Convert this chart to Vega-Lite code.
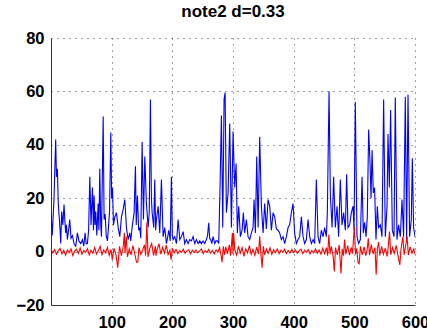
{
  "$schema": "https://vega.github.io/schema/vega-lite/v6.json",
  "width": 364,
  "height": 267,
  "autosize": {"type": "none"},
  "padding": {"left": 51, "top": 38, "right": 12, "bottom": 25},
  "background": "white",
  "title": {"text": "note2 d=0.33", "fontSize": 17, "fontWeight": "bold", "font": "Liberation Sans", "color": "black", "offset": 9, "anchor": "middle"},
  "config": {
    "view": {"stroke": null},
    "axis": {
      "labelFont": "Liberation Sans", "labelFontSize": 16.5, "labelFontWeight": "bold", "labelColor": "black",
      "domainColor": "#333", "domainWidth": 1, "ticks": false,
      "grid": true, "gridColor": "#444", "gridDash": [1, 5], "gridOpacity": 1, "gridWidth": 1,
      "title": null
    }
  },
  "datasets": {
    "blue": [
      {"x":0,"y":15},{"x":2,"y":6},{"x":5,"y":20},{"x":7.7,"y":42},{"x":9,"y":28},{"x":10.5,"y":31},{"x":12,"y":18},{"x":13.2,"y":14},{"x":15,"y":8},{"x":16,"y":3},{"x":17.6,"y":15},{"x":19.5,"y":10},{"x":21.5,"y":17.6},{"x":23,"y":11},{"x":24.2,"y":7},{"x":25.5,"y":10},{"x":27,"y":4.5},{"x":29,"y":8},{"x":30.9,"y":12},{"x":33,"y":5},{"x":35.3,"y":6},{"x":38,"y":3},{"x":40.8,"y":2},{"x":43.5,"y":7},{"x":46,"y":4},{"x":49,"y":3},{"x":51.8,"y":4.5},{"x":54,"y":2},{"x":56.2,"y":7},{"x":58,"y":3},{"x":60,"y":3},{"x":62,"y":8},{"x":64,"y":28},{"x":66,"y":10},{"x":68.3,"y":24},{"x":70,"y":8},{"x":71,"y":21},{"x":72.5,"y":10},{"x":73.8,"y":15},{"x":75.5,"y":6},{"x":77.7,"y":18},{"x":79,"y":8},{"x":80.4,"y":31},{"x":82,"y":10},{"x":83.2,"y":5.6},{"x":86,"y":50.6},{"x":87.5,"y":12},{"x":89.3,"y":14},{"x":91,"y":6},{"x":93,"y":4},{"x":95,"y":10},{"x":96.5,"y":15},{"x":98.6,"y":44.6},{"x":100,"y":20},{"x":101.4,"y":24},{"x":103,"y":10},{"x":105.2,"y":13},{"x":107.9,"y":14.6},{"x":110.7,"y":9},{"x":113.4,"y":5.6},{"x":116.1,"y":13},{"x":118.9,"y":15.7},{"x":121.6,"y":19.5},{"x":124.4,"y":9},{"x":127.1,"y":4.5},{"x":129.9,"y":7},{"x":131.5,"y":4},{"x":133.7,"y":9},{"x":137,"y":14.6},{"x":139.2,"y":32},{"x":140.5,"y":10},{"x":142.5,"y":21},{"x":144.5,"y":8},{"x":146.3,"y":9},{"x":148,"y":5},{"x":150.2,"y":41},{"x":152.4,"y":12},{"x":154.6,"y":35.6},{"x":157.3,"y":18},{"x":160.1,"y":9},{"x":162,"y":15},{"x":163.9,"y":57},{"x":165.5,"y":20},{"x":166.7,"y":14.6},{"x":169.4,"y":9},{"x":171,"y":27},{"x":172.5,"y":8},{"x":173.8,"y":12},{"x":176.6,"y":17},{"x":179.3,"y":7},{"x":182,"y":27},{"x":184.8,"y":5.6},{"x":187.5,"y":9},{"x":190.3,"y":3},{"x":192,"y":5},{"x":194.1,"y":8},{"x":196.5,"y":4},{"x":198.5,"y":28},{"x":200,"y":6},{"x":201.3,"y":4.5},{"x":204,"y":5.6},{"x":206.8,"y":3},{"x":209.5,"y":12},{"x":212.3,"y":4.5},{"x":215,"y":5.6},{"x":217.8,"y":7.5},{"x":220.5,"y":3},{"x":223.2,"y":4.5},{"x":226,"y":3},{"x":228.7,"y":4.5},{"x":231.5,"y":4},{"x":234.2,"y":5.6},{"x":237,"y":3},{"x":239.7,"y":4.5},{"x":242.5,"y":3},{"x":245.2,"y":4},{"x":247.9,"y":3},{"x":250.7,"y":4},{"x":253.4,"y":3},{"x":256.2,"y":4.5},{"x":258,"y":6},{"x":260,"y":10.8},{"x":261.5,"y":5},{"x":263.3,"y":4.5},{"x":265,"y":3},{"x":267.2,"y":5.6},{"x":269.9,"y":3},{"x":272,"y":4},{"x":274.3,"y":4},{"x":276.5,"y":3},{"x":278.7,"y":25},{"x":280.9,"y":51},{"x":283.1,"y":9},{"x":285.3,"y":57},{"x":287,"y":59.6},{"x":289.1,"y":14.6},{"x":291.9,"y":22},{"x":294.6,"y":48},{"x":297.4,"y":9},{"x":300.1,"y":45},{"x":302.8,"y":24},{"x":305.1,"y":33},{"x":307.2,"y":7},{"x":309.4,"y":17},{"x":312.2,"y":5.6},{"x":315,"y":8},{"x":317.1,"y":14.6},{"x":319.3,"y":7},{"x":322.1,"y":12},{"x":324.8,"y":5.6},{"x":327.5,"y":4.5},{"x":330.3,"y":7},{"x":333.1,"y":9},{"x":334.7,"y":19.5},{"x":336.9,"y":7},{"x":339.1,"y":35.6},{"x":341.4,"y":9},{"x":344,"y":43},{"x":346.8,"y":17},{"x":349.6,"y":7},{"x":352.2,"y":18},{"x":355,"y":8.5},{"x":357.8,"y":19.5},{"x":360.5,"y":17},{"x":363.3,"y":8},{"x":366.1,"y":14.6},{"x":368.7,"y":13},{"x":371.5,"y":8.5},{"x":374.3,"y":8},{"x":376.9,"y":7},{"x":379.7,"y":4.5},{"x":382.5,"y":5.6},{"x":385.2,"y":3},{"x":388,"y":5.6},{"x":390.8,"y":9},{"x":393.4,"y":10},{"x":396.2,"y":14.6},{"x":399,"y":18},{"x":401.6,"y":7},{"x":404.4,"y":3},{"x":407.2,"y":4.5},{"x":409.9,"y":5.6},{"x":412.7,"y":13},{"x":415.5,"y":5.6},{"x":418.1,"y":3},{"x":420.9,"y":4.5},{"x":423.7,"y":12},{"x":426.4,"y":5.6},{"x":429.2,"y":3},{"x":432,"y":4.5},{"x":434.6,"y":3},{"x":437.4,"y":27},{"x":440.2,"y":5.6},{"x":442.8,"y":3},{"x":445.6,"y":8},{"x":448.4,"y":5.6},{"x":451.1,"y":9},{"x":453.9,"y":5.6},{"x":455.5,"y":14.6},{"x":458.3,"y":60},{"x":460.5,"y":21},{"x":463.3,"y":9},{"x":465.9,"y":28},{"x":468.7,"y":9},{"x":471.5,"y":17},{"x":474.1,"y":5.6},{"x":476.9,"y":27},{"x":479.7,"y":10},{"x":482.4,"y":14.6},{"x":485.2,"y":8},{"x":487.3,"y":29},{"x":489.6,"y":9},{"x":492.3,"y":10},{"x":495.1,"y":14.6},{"x":497.9,"y":17},{"x":499.5,"y":8},{"x":501.6,"y":56},{"x":504.4,"y":5.6},{"x":507.1,"y":3},{"x":509.9,"y":4.5},{"x":512.7,"y":28},{"x":514.8,"y":7},{"x":517,"y":11},{"x":519.3,"y":5.6},{"x":521.4,"y":13},{"x":523.6,"y":45.7},{"x":525.9,"y":33},{"x":527.5,"y":20},{"x":529.2,"y":38},{"x":531.3,"y":22},{"x":533.4,"y":24},{"x":535.7,"y":4.5},{"x":537.9,"y":17},{"x":540,"y":9},{"x":542.8,"y":10},{"x":545.6,"y":5.6},{"x":548.3,"y":57},{"x":551.1,"y":5.6},{"x":553.9,"y":17},{"x":555.5,"y":44},{"x":557.7,"y":24},{"x":559.8,"y":53},{"x":562.6,"y":8},{"x":565.4,"y":5.6},{"x":567.5,"y":57.7},{"x":570.3,"y":4.5},{"x":572.9,"y":10},{"x":575.8,"y":5.6},{"x":578.6,"y":19.5},{"x":581.2,"y":5.6},{"x":584,"y":58},{"x":586.2,"y":4.5},{"x":588.5,"y":58.8},{"x":591.1,"y":5.6},{"x":593.9,"y":12},{"x":595.6,"y":35},{"x":597.7,"y":9},{"x":600,"y":5.6}
    ],
    "red": [
      {"x":0,"y":1},{"x":3,"y":-0.5},{"x":6,"y":0.8},{"x":9,"y":-1},{"x":12,"y":0.3},{"x":15,"y":1.2},{"x":18,"y":-0.8},{"x":21,"y":0.5},{"x":24,"y":-1.3},{"x":27,"y":0.6},{"x":30,"y":-0.4},{"x":33,"y":1},{"x":36,"y":-1.5},{"x":39,"y":0.2},{"x":42,"y":0.9},{"x":45,"y":-0.7},{"x":48,"y":1.3},{"x":51,"y":-1},{"x":54,"y":0.4},{"x":57,"y":-0.3},{"x":60,"y":1.1},{"x":63,"y":-1.2},{"x":66,"y":0.5},{"x":69,"y":-0.6},{"x":72,"y":1.5},{"x":75,"y":-0.9},{"x":78,"y":0.3},{"x":81,"y":2},{"x":84,"y":-1.1},{"x":87,"y":0.7},{"x":90,"y":-0.5},{"x":93,"y":1.6},{"x":96,"y":-1.4},{"x":99,"y":0.8},{"x":101,"y":-3},{"x":104,"y":1.2},{"x":107,"y":-1},{"x":110,"y":-6},{"x":113,"y":2},{"x":116,"y":-1.5},{"x":119,"y":1.8},{"x":121,"y":7},{"x":122,"y":-0.5},{"x":124,"y":5.6},{"x":126,"y":-2},{"x":129,"y":1},{"x":132,"y":-1.2},{"x":135,"y":2.2},{"x":138,"y":-0.8},{"x":141,"y":-4},{"x":143,"y":-4},{"x":145,"y":1.5},{"x":148,"y":-1},{"x":151,"y":0.6},{"x":154,"y":2.5},{"x":156,"y":-1.5},{"x":158,"y":11},{"x":160,"y":-2},{"x":163,"y":1.3},{"x":166,"y":3},{"x":169,"y":-1.4},{"x":172,"y":2},{"x":173,"y":-1.5},{"x":175,"y":0.8},{"x":178,"y":3},{"x":181,"y":-1},{"x":184,"y":1.6},{"x":187,"y":-0.6},{"x":190,"y":2.4},{"x":193,"y":-1.1},{"x":196,"y":0.5},{"x":198,"y":-3},{"x":200,"y":1.2},{"x":203,"y":-0.5},{"x":206,"y":0.8},{"x":209,"y":-0.7},{"x":212,"y":0.4},{"x":215,"y":-0.3},{"x":218,"y":0.9},{"x":221,"y":-0.6},{"x":224,"y":0.2},{"x":227,"y":0.7},{"x":230,"y":-0.8},{"x":233,"y":0.5},{"x":236,"y":-0.4},{"x":239,"y":0.6},{"x":242,"y":-0.5},{"x":245,"y":0.3},{"x":248,"y":1},{"x":251,"y":-0.7},{"x":254,"y":0.4},{"x":257,"y":-0.3},{"x":260,"y":0.8},{"x":263,"y":-0.6},{"x":266,"y":0.5},{"x":269,"y":-0.9},{"x":272,"y":0.6},{"x":275,"y":-0.2},{"x":278,"y":1.5},{"x":280,"y":-1},{"x":282,"y":-4},{"x":284,"y":2},{"x":286,"y":-1.2},{"x":288,"y":1.8},{"x":291,"y":-0.8},{"x":294,"y":2.5},{"x":296,"y":-1.5},{"x":299,"y":7},{"x":300,"y":-1},{"x":301,"y":7},{"x":303,"y":0.5},{"x":306,"y":-1.3},{"x":309,"y":2},{"x":312,"y":-0.6},{"x":315,"y":1.5},{"x":318,"y":-1.8},{"x":321,"y":1},{"x":324,"y":-0.5},{"x":327,"y":2.2},{"x":330,"y":-1},{"x":333,"y":0.8},{"x":336,"y":-1.4},{"x":339,"y":1.7},{"x":342,"y":-0.9},{"x":344,"y":5.7},{"x":346,"y":-1},{"x":348,"y":-6},{"x":350,"y":2},{"x":352,"y":-1.2},{"x":355,"y":1},{"x":358,"y":-0.6},{"x":361,"y":1.4},{"x":364,"y":-1},{"x":367,"y":0.7},{"x":370,"y":-0.4},{"x":373,"y":1},{"x":376,"y":-0.8},{"x":379,"y":0.5},{"x":382,"y":-0.3},{"x":385,"y":0.9},{"x":388,"y":-0.7},{"x":391,"y":0.4},{"x":394,"y":-0.5},{"x":397,"y":0.8},{"x":400,"y":-0.4},{"x":403,"y":0.6},{"x":406,"y":-0.6},{"x":409,"y":0.3},{"x":412,"y":0.9},{"x":415,"y":-0.8},{"x":418,"y":0.5},{"x":421,"y":-0.3},{"x":424,"y":0.7},{"x":427,"y":-0.9},{"x":430,"y":0.4},{"x":433,"y":-0.5},{"x":436,"y":1},{"x":439,"y":-0.6},{"x":442,"y":0.6},{"x":445,"y":-1},{"x":448,"y":1.2},{"x":451,"y":-0.8},{"x":454,"y":1.5},{"x":456,"y":-1.5},{"x":458,"y":6.4},{"x":460,"y":-1},{"x":462,"y":2},{"x":465,"y":-1.6},{"x":467,"y":-7.4},{"x":469,"y":1.5},{"x":472,"y":-1.2},{"x":475,"y":2.5},{"x":478,"y":-8.2},{"x":480,"y":1},{"x":482,"y":-1.5},{"x":484,"y":4.5},{"x":486,"y":-1},{"x":489,"y":2.2},{"x":492,"y":-1.3},{"x":495,"y":1.6},{"x":497,"y":-0.8},{"x":500,"y":9.5},{"x":502,"y":-1},{"x":504,"y":1.2},{"x":506,"y":-4},{"x":508,"y":-4.5},{"x":510,"y":2},{"x":513,"y":-1.2},{"x":516,"y":1.8},{"x":519,"y":-1.5},{"x":521,"y":0.5},{"x":523,"y":5},{"x":525,"y":-1.3},{"x":528,"y":2.6},{"x":531,"y":-0.9},{"x":534,"y":1.5},{"x":536,"y":-8.6},{"x":538,"y":1},{"x":540,"y":3.6},{"x":542,"y":-1.4},{"x":545,"y":2},{"x":548,"y":-1},{"x":551,"y":1.3},{"x":554,"y":-1.8},{"x":556,"y":2},{"x":558,"y":7.5},{"x":560,"y":-1.2},{"x":563,"y":1.5},{"x":566,"y":-0.7},{"x":569,"y":2.3},{"x":572,"y":-1.5},{"x":575,"y":-5},{"x":577,"y":1},{"x":580,"y":5.6},{"x":582,"y":-1.2},{"x":584,"y":1.4},{"x":587,"y":5.6},{"x":589,"y":-1.3},{"x":592,"y":1.8},{"x":595,"y":-0.6},{"x":598,"y":1},{"x":600,"y":-1}
    ]
  },
  "encoding": {
    "x": {"field": "x", "type": "quantitative", "scale": {"domain": [0, 600], "nice": false, "zero": false},
          "axis": {"values": [100, 200, 300, 400, 500, 600], "labelPadding": 9, "labelFlush": false}},
    "y": {"field": "y", "type": "quantitative", "scale": {"domain": [-20, 80], "nice": false},
          "axis": {"values": [-20, 0, 20, 40, 60, 80], "labelPadding": 7}}
  },
  "layer": [
    {"data": {"name": "blue"}, "mark": {"type": "line", "color": "#0000ff", "strokeWidth": 1.1, "clip": true}},
    {"data": {"name": "red"}, "mark": {"type": "line", "color": "#ff0000", "strokeWidth": 1.1, "clip": true}}
  ]
}
